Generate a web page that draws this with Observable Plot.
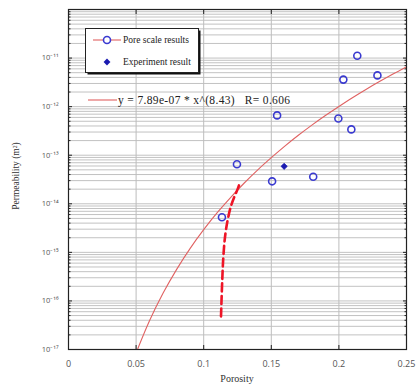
<!DOCTYPE html>
<html><head><meta charset="utf-8">
<script src="https://cdn.jsdelivr.net/npm/d3@7"></script>
<script src="https://cdn.jsdelivr.net/npm/@observablehq/plot@0.6"></script>
<style>body{margin:0;background:#fff}#chart{width:420px;height:387px}</style>
</head><body><div id="chart"></div>
<script>
// Pore scale results (open circles)
const poreX = [0.2136, 0.2285, 0.2033, 0.1543, 0.1996, 0.2092, 0.1246, 0.1506, 0.1810, 0.1135];
const poreK = [1.12e-11, 4.4e-12, 3.6e-12, 6.6e-13, 5.7e-13, 3.4e-13, 6.5e-14, 2.9e-14, 3.6e-14, 5.3e-15];
// Experiment result (filled diamond)
const expX = [0.1595];
const expK = [5.9e-14];
// Fitted curve y = 7.89e-07 * x^(8.43)
const fitX = [0.05,0.06,0.07,0.08,0.09,0.10,0.11,0.12,0.13,0.14,0.15,0.16,0.17,0.18,0.19,0.20,0.21,0.22,0.23,0.24,0.25];
const fitK = [8.5e-18,3.95e-17,1.45e-16,4.47e-16,1.21e-15,2.93e-15,6.55e-15,1.36e-14,2.68e-14,5.0e-14,8.9e-14,1.54e-13,2.57e-13,4.16e-13,6.56e-13,1.01e-12,1.53e-12,2.26e-12,3.28e-12,4.70e-12,6.63e-12];
// Red dashed trend
const dashX = [0.1128, 0.1137, 0.1145, 0.1157, 0.1177, 0.1207, 0.1251, 0.1261];
const dashK = [4.8e-17, 2.6e-16, 7.8e-16, 2.0e-15, 4.6e-15, 1.0e-14, 2.0e-14, 2.4e-14];
// Ticks
const decades = [1e-17, 1e-16, 1e-15, 1e-14, 1e-13, 1e-12, 1e-11];
const decadeLabels = ["10⁻¹⁷","10⁻¹⁶","10⁻¹⁵","10⁻¹⁴","10⁻¹³","10⁻¹²","10⁻¹¹"];
const xTicks = [0, 0.05, 0.1, 0.15, 0.2, 0.25];
const xTickLabels = ["0","0.05","0.1","0.15","0.2","0.25"];
const legendLabels = ["Pore scale results", "Experiment result"];
const fitLabel = "y = 7.89e-07 * x^(8.43)   R= 0.606";
const xLabel = "Porosity";
const yLabel = "Permeability (m²)";

const minor = [];
for (let e = -17; e < -10; e++) for (let m = 2; m <= 9; m++) minor.push(+(m + "e" + e));

const pore = poreX.map((x, i) => ({x, k: poreK[i]}));
const exp = expX.map((x, i) => ({x, k: expK[i]}));
const fit = fitX.map((x, i) => ({x, k: fitK[i]}));
const dash = dashX.map((x, i) => ({x, k: dashK[i]}));

const blank = () => "";
const chart = Plot.plot({
  width: 420, height: 387,
  marginLeft: 68, marginRight: 14, marginTop: 9, marginBottom: 38,
  style: {fontFamily: "Open Sans, sans-serif", fontSize: "8px", color: "#444", background: "#fff"},
  x: {domain: [0, 0.25]},
  y: {type: "log", domain: [1e-17, 1e-10]},
  marks: [
    Plot.ruleY(minor, {stroke: "#c2c2c2", strokeWidth: 1}),
    Plot.ruleY(decades, {stroke: "#c2c2c2", strokeWidth: 1}),
    Plot.ruleX(xTicks.slice(1, -1), {stroke: "#bdbdbd", strokeWidth: 1}),
    Plot.axisX({anchor: "bottom", ticks: xTicks, tickSize: -4, tickFormat: blank, label: null, stroke: "#222"}),
    Plot.axisX({anchor: "top", ticks: xTicks, tickSize: -4, tickFormat: blank, label: null, stroke: "#222"}),
    Plot.axisX({anchor: "bottom", ticks: xTicks, tickSize: 0, tickPadding: 11, fontSize: 9,
      tickFormat: d => xTickLabels[xTicks.indexOf(d)], label: null, fill: "#555"}),
    Plot.axisY({anchor: "left", ticks: minor, tickSize: -2.5, tickFormat: blank, label: null, stroke: "#222"}),
    Plot.axisY({anchor: "right", ticks: minor, tickSize: -2.5, tickFormat: blank, label: null, stroke: "#222"}),
    Plot.axisY({anchor: "left", ticks: decades, tickSize: -4, tickFormat: blank, label: null, stroke: "#222"}),
    Plot.axisY({anchor: "right", ticks: decades, tickSize: -4, tickFormat: blank, label: null, stroke: "#222"}),
    Plot.axisY({anchor: "left", ticks: decades, tickSize: 0, tickPadding: 10, fontSize: 7.5,
      tickFormat: d => decadeLabels[decades.indexOf(d)], label: null, fill: "#555"}),
    Plot.frame({stroke: "#222", strokeWidth: 1.2}),
    Plot.line(fit, {x: "x", y: "k", stroke: "#e06262", strokeWidth: 1.1, curve: "catmull-rom", clip: true}),
    Plot.line(dash, {x: "x", y: "k", stroke: "#ee1426", strokeWidth: 2.6, strokeDasharray: "8,4.5", curve: "catmull-rom"}),
    Plot.dot(pore, {x: "x", y: "k", r: 3.5, stroke: "#3a3ad0", strokeWidth: 1.6, fill: "none"}),
    Plot.dot(exp, {x: "x", y: "k", r: 2.8, symbol: "diamond2", fill: "#1a1ab0", stroke: "#1a1ab0", strokeWidth: 0.8})
  ]
});
document.getElementById("chart").appendChild(chart);

const svg = d3.select(chart);
const serif = "Liberation Serif, Times New Roman, serif";
// Axis titles
svg.append("text").attr("transform", "translate(19,176) rotate(-90)")
  .attr("text-anchor", "middle").attr("font-family", serif).attr("font-size", 9.5).attr("fill", "#333").text(yLabel);
svg.append("text").attr("x", 237).attr("y", 382)
  .attr("text-anchor", "middle").attr("font-family", serif).attr("font-size", 10).attr("fill", "#333").text(xLabel);
// Legend box
const lg = svg.append("g").attr("text-anchor", "start");
lg.append("rect").attr("x", 87.5).attr("y", 30.5).attr("width", 113).attr("height", 44).attr("fill", "#111");
lg.append("rect").attr("x", 85.5).attr("y", 28.5).attr("width", 113).attr("height", 44).attr("fill", "#fff").attr("stroke", "#222").attr("stroke-width", 1);
lg.append("line").attr("x1", 93).attr("x2", 121).attr("y1", 40).attr("y2", 40).attr("stroke", "#e06262").attr("stroke-width", 1.1);
lg.append("circle").attr("cx", 107).attr("cy", 40).attr("r", 3.5).attr("fill", "#fff").attr("stroke", "#3a3ad0").attr("stroke-width", 1.6);
lg.append("path").attr("d", d3.symbol(d3.symbolSquare2, 30)()).attr("transform", "translate(107,62) rotate(45)").attr("fill", "#1a1ab0");
lg.append("text").attr("x", 123).attr("y", 43).attr("text-anchor", "start").attr("font-family", serif).attr("font-size", 9.5).attr("fill", "#222").text(legendLabels[0]);
lg.append("text").attr("x", 123).attr("y", 65).attr("text-anchor", "start").attr("font-family", serif).attr("font-size", 9.5).attr("fill", "#222").text(legendLabels[1]);
// Fit legend
svg.append("line").attr("x1", 88).attr("x2", 117).attr("y1", 100).attr("y2", 100).attr("stroke", "#e06262").attr("stroke-width", 1.1);
svg.append("text").attr("x", 118).attr("y", 104).attr("text-anchor", "start").attr("font-family", serif).attr("font-size", 11.5).attr("letter-spacing", 0.35).attr("fill", "#222")
  .attr("xml:space", "preserve").style("white-space", "pre").text(fitLabel);
</script>
</body></html>
